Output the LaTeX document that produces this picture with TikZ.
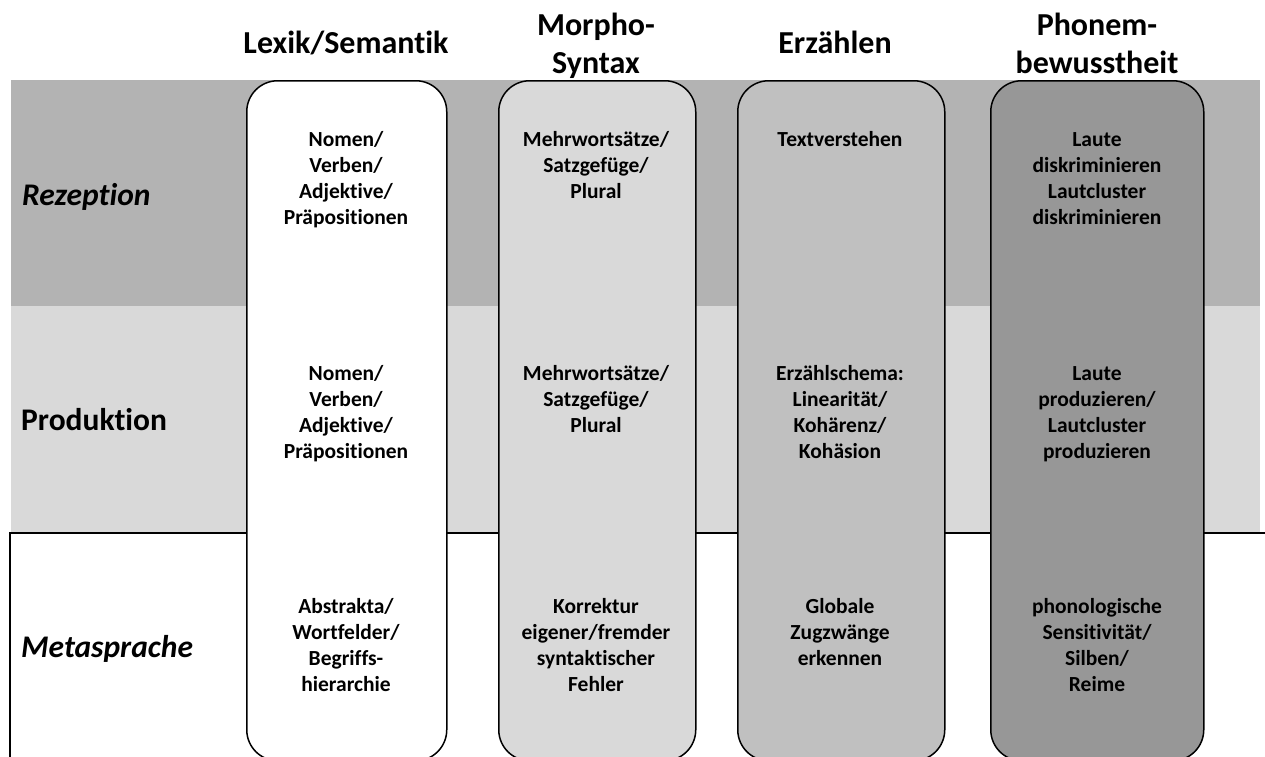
\documentclass[tikz,border=0pt]{standalone}
\usepackage{fontspec}
\setmainfont{Carlito}[Ligatures={NoCommon}]
\definecolor{rezband}{HTML}{B3B3B3}
\definecolor{prodband}{HTML}{D9D9D9}
\definecolor{morphofill}{HTML}{D9D9D9}
\definecolor{erzfill}{HTML}{C0C0C0}
\definecolor{phonfill}{HTML}{979797}
\begin{document}
\begin{tikzpicture}[x=1pt,y=-1pt,
  pillar/.style={draw=black,line width=1.5pt,rounded corners=31pt,
    anchor=north west,minimum height=680pt,inner sep=0pt},
  cell/.style={font=\fontsize{21.5}{26}\selectfont\bfseries,align=center,
    anchor=base,inner sep=0pt},
  head/.style={font=\fontsize{32}{38}\selectfont\bfseries,align=center,
    anchor=base,inner sep=0pt},
  rowlab/.style={font=\fontsize{31.5}{36}\selectfont\bfseries,
    anchor=base west,inner sep=0pt}]
\useasboundingbox (0,0) rectangle (1265,756);
\clip (0,0) rectangle (1265,756);

% row bands
\fill[rezband] (11,80) rectangle (1260,306);
\fill[prodband] (11,306) rectangle (1260,533);
\draw[line width=1.5pt,fill=white] (10,533) rectangle (1280,800);

% column pillars
\node[pillar,fill=white,minimum width=200pt] (lex) at (246,80) {};
\node[pillar,fill=morphofill,minimum width=197pt] (morph) at (498,80) {};
\node[pillar,fill=erzfill,minimum width=207pt] (erz) at (737,80) {};
\node[pillar,fill=phonfill,minimum width=213pt] (phon) at (990,80) {};

% column headings (anchored at the baseline of the last line)
\node[head] (hlex) at (346,53) {Lexik/Semantik};
\node[head] (hmorph) at (596,73) {Morpho-\\Syntax};
\node[head] (herz) at (835,53) {Erzählen};
\node[head] (hphon) at (1097,73) {Phonem-\\bewusstheit};

% row labels
\node[rowlab] (rez) at (22,205) {\itshape Rezeption};
\node[rowlab] (prod) at (21,430) {Produktion};
\node[rowlab] (meta) at (21,657) {\itshape Metasprache};

% Lexik/Semantik
\node[cell] (lex1) at (346,224) {Nomen/\\Verben/\\Adjektive/\\Präpositionen};
\node[cell] (lex2) at (346,458) {Nomen/\\Verben/\\Adjektive/\\Präpositionen};
\node[cell] (lex3) at (346,691) {Abstrakta/\\Wortfelder/\\Begriffs-\\hierarchie};

% Morpho-Syntax
\node[cell] (morph1) at (596,198) {Mehrwortsätze/\\Satzgefüge/\\Plural};
\node[cell] (morph2) at (596,432) {Mehrwortsätze/\\Satzgefüge/\\Plural};
\node[cell] (morph3) at (596,691) {Korrektur\\eigener/fremder\\syntaktischer\\Fehler};

% Erzählen
\node[cell] (erz1) at (840,146) {Textverstehen};
\node[cell] (erz2) at (840,458) {Erzählschema:\\Linearität/\\Kohärenz/\\Kohäsion};
\node[cell] (erz3) at (840,665) {Globale\\Zugzwänge\\erkennen};

% Phonembewusstheit
\node[cell] (phon1) at (1097,224) {Laute\\diskriminieren\\Lautcluster\\diskriminieren};
\node[cell] (phon2) at (1097,458) {Laute\\produzieren/\\Lautcluster\\produzieren};
\node[cell] (phon3) at (1097,691) {phonologische\\Sensitivität/\\Silben/\\Reime};
\end{tikzpicture}
\end{document}
